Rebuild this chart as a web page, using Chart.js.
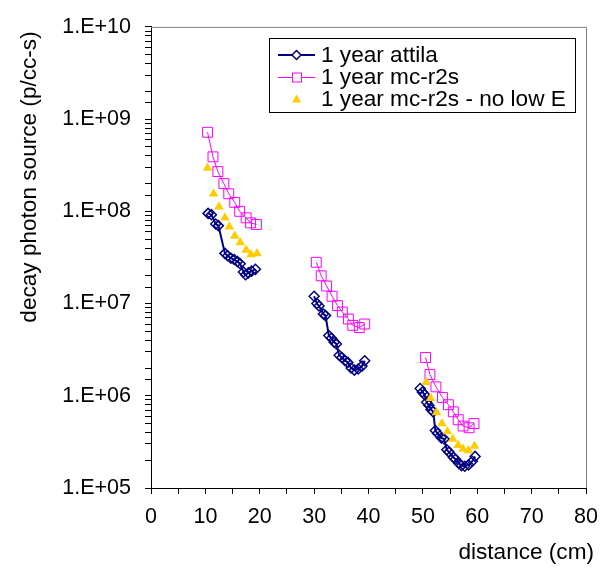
<!DOCTYPE html>
<html lang="en">
<head>
  <meta charset="UTF-8" />
  <title>Decay photon source vs distance</title>
  <script src="https://cdn.jsdelivr.net/npm/chart.js"></script>
  <style>
    body { margin: 0; background: #fff; }
    canvas { display: block; }
  </style>
</head>
<body>
  <canvas id="chart" width="609" height="570"></canvas>

  <script>
    // distance (cm) and decay photon source (p/cc-s); null splits the line between groups
    const attilaX = [10.5, 11.1, 11.9, 12.4, 13.6, 14.1, 14.7, 15.3, 15.9, 16.4, 17.0, 17.4, 17.9, 18.5, 19.2,
      null,
      30.0, 30.5, 30.9, 31.7, 32.1, 32.7, 33.2, 33.7, 34.1, 34.6, 35.1, 35.7, 36.2, 36.8, 37.4, 38.1, 38.8, 39.3,
      null,
      49.5, 49.9, 50.3, 50.7, 51.1, 51.5, 51.9, 52.3, 52.7, 53.4, 53.9, 54.4, 54.8, 55.6, 56.0, 56.6, 57.1, 57.7, 58.4, 59.1, 59.6];
    const attilaY = [9.5e7, 9.2e7, 7.3e7, 7.0e7, 3.5e7, 3.3e7, 3.1e7, 3.0e7, 2.85e7, 2.7e7, 2.2e7, 2.05e7, 2.15e7, 2.25e7, 2.35e7,
      null,
      1.2e7, 1.0e7, 9.4e6, 7.7e6, 7.4e6, 4.5e6, 4.2e6, 3.8e6, 3.65e6, 2.75e6, 2.6e6, 2.4e6, 2.3e6, 2.0e6, 1.9e6, 1.95e6, 2.1e6, 2.4e6,
      null,
      1.2e6, 1.1e6, 1.03e6, 8.5e5, 7.9e5, 7.1e5, 6.7e5, 4.2e5, 3.9e5, 3.5e5, 3.4e5, 2.6e5, 2.45e5, 2.15e5, 2.05e5, 1.85e5, 1.75e5, 1.72e5, 1.78e5, 1.95e5, 2.2e5];

    const r2sX = [10.4, 11.4, 12.3, 13.4, 14.3, 15.4, 16.3, 17.5, 18.3, 19.4,
      null,
      30.4, 31.3, 32.3, 33.3, 34.3, 35.2, 36.3, 37.1, 38.3, 39.3,
      null,
      50.5, 51.3, 52.4, 53.6, 54.7, 55.6, 56.5, 57.4, 58.5, 59.4];
    const r2sY = [7.2e8, 3.9e8, 2.7e8, 2.0e8, 1.55e8, 1.25e8, 1.0e8, 8.5e7, 7.5e7, 7.2e7,
      null,
      2.8e7, 2.0e7, 1.55e7, 1.2e7, 9.5e6, 8.1e6, 6.8e6, 5.8e6, 5.5e6, 6.0e6,
      null,
      2.6e6, 1.7e6, 1.25e6, 9.6e5, 8.0e5, 6.7e5, 5.5e5, 4.7e5, 4.5e5, 5.0e5];

    const noLowEX = [10.4, 11.5, 12.5, 13.6, 14.4, 15.4, 16.4, 17.5, 18.4, 19.5,
      50.6, 51.4, 52.5, 53.5, 54.5, 55.5, 56.5, 57.4, 58.4, 59.5];
    const noLowEY = [2.95e8, 1.55e8, 1.12e8, 8.5e7, 6.8e7, 5.4e7, 4.6e7, 3.8e7, 3.4e7, 3.5e7,
      1.4e6, 9.4e5, 6.6e5, 5.0e5, 4.1e5, 3.4e5, 2.9e5, 2.65e5, 2.55e5, 2.85e5];

    const seriesNames = ['1 year attila', '1 year mc-r2s', '1 year mc-r2s - no low E'];
    const xTitle = 'distance (cm)';
    const yTitle = 'decay photon source (p/cc-s)';

    const NAVY = '#000080';
    const PINK = '#FF00FF';
    const GOLD = '#FFCC00';
    const FONT = "'Liberation Sans', Arial, sans-serif";

    function points(xs, ys) {
      return xs.map((x, i) => (x === null ? { x: null, y: null } : { x: x, y: ys[i] }));
    }

    function diamond(ctx, x, y, r) {
      ctx.beginPath();
      ctx.moveTo(x, y - r); ctx.lineTo(x + r, y); ctx.lineTo(x, y + r); ctx.lineTo(x - r, y);
      ctx.closePath();
    }

    // frame, axis titles and legend box drawn on top of the chart
    const decor = {
      id: 'decor',
      afterDraw(chart) {
        const ctx = chart.ctx;
        const a = chart.chartArea;
        ctx.save();

        ctx.strokeStyle = '#808080';
        ctx.lineWidth = 1;
        ctx.beginPath();
        ctx.moveTo(a.left, a.top + 0.5);
        ctx.lineTo(a.right + 0.5, a.top + 0.5);
        ctx.lineTo(a.right + 0.5, a.bottom);
        ctx.stroke();

        ctx.fillStyle = '#000';
        ctx.font = '22.6px ' + FONT;
        ctx.textBaseline = 'middle';
        ctx.textAlign = 'right';
        ctx.fillText(xTitle, 594, 553);
        ctx.save();
        ctx.translate(30, 177);
        ctx.rotate(-Math.PI / 2);
        ctx.textAlign = 'center';
        ctx.fillText(yTitle, 0, 0);
        ctx.restore();

        // legend
        ctx.fillStyle = '#fff';
        ctx.fillRect(269, 38, 306, 74);
        ctx.strokeStyle = '#000';
        ctx.lineWidth = 1;
        ctx.strokeRect(269.5, 38.5, 306, 74);

        const rows = [55, 77, 99];
        const lx0 = 278, lx1 = 315, mx = 296.5;

        ctx.strokeStyle = NAVY;
        ctx.lineWidth = 2;
        ctx.beginPath(); ctx.moveTo(lx0, rows[0]); ctx.lineTo(lx1, rows[0]); ctx.stroke();
        ctx.fillStyle = '#fff';
        ctx.lineWidth = 1.5;
        diamond(ctx, mx, rows[0], 4.5);
        ctx.fill(); ctx.stroke();

        ctx.strokeStyle = PINK;
        ctx.lineWidth = 1;
        ctx.beginPath(); ctx.moveTo(lx0, rows[1] + 0.5); ctx.lineTo(lx1, rows[1] + 0.5); ctx.stroke();
        ctx.fillStyle = '#fff';
        ctx.fillRect(mx - 4, rows[1] - 4, 9, 9);
        ctx.strokeRect(mx - 4, rows[1] - 4, 9, 9);

        ctx.fillStyle = GOLD;
        ctx.beginPath();
        ctx.moveTo(mx, rows[2] - 4.5);
        ctx.lineTo(mx + 4.5, rows[2] + 3.5);
        ctx.lineTo(mx - 4.5, rows[2] + 3.5);
        ctx.closePath();
        ctx.fill();

        ctx.fillStyle = '#000';
        ctx.font = '22.6px ' + FONT;
        ctx.textAlign = 'left';
        ctx.textBaseline = 'middle';
        seriesNames.forEach((name, i) => ctx.fillText(name, 321, rows[i] + 1));

        ctx.restore();
      }
    };

    new Chart(document.getElementById('chart'), {
      type: 'line',
      data: {
        datasets: [
          {
            label: seriesNames[0],
            data: points(attilaX, attilaY),
            borderColor: NAVY,
            borderWidth: 2,
            pointStyle: 'rectRot',
            pointRadius: 5,
            pointBorderWidth: 1.5,
            pointBorderColor: NAVY,
            pointBackgroundColor: 'rgba(0,0,0,0)',
            spanGaps: false,
            order: 3
          },
          {
            label: seriesNames[1],
            data: points(r2sX, r2sY),
            borderColor: PINK,
            borderWidth: 1,
            pointStyle: 'rect',
            pointRadius: 7,
            pointBorderWidth: 1,
            pointBorderColor: PINK,
            pointBackgroundColor: 'rgba(0,0,0,0)',
            spanGaps: false,
            order: 2
          },
          {
            label: seriesNames[2],
            data: points(noLowEX, noLowEY),
            showLine: false,
            pointStyle: 'triangle',
            pointRadius: 5.5,
            pointBorderWidth: 0,
            pointBackgroundColor: GOLD,
            pointBorderColor: GOLD,
            order: 1
          }
        ]
      },
      options: {
        responsive: false,
        animation: false,
        layout: { padding: { top: 20, right: 23, left: 0, bottom: 0 } },
        plugins: { legend: { display: false }, tooltip: { enabled: false } },
        scales: {
          x: {
            type: 'linear',
            min: 0,
            max: 80,
            afterFit: s => { s.height = 82; },
            border: { color: '#000', width: 1 },
            grid: { drawOnChartArea: false, drawTicks: true, tickLength: 6, tickColor: '#000' },
            ticks: {
              stepSize: 5,
              autoSkip: false,
              maxRotation: 0,
              padding: 10,
              color: '#000',
              font: { family: FONT, size: 21.5 },
              callback: v => (v % 10 === 0 ? String(v) : '')
            }
          },
          y: {
            type: 'logarithmic',
            min: 1e5,
            max: 1e10,
            afterFit: s => { s.width = 151; },
            border: { color: '#000', width: 1 },
            grid: { drawOnChartArea: false, drawTicks: true, tickLength: 6, tickColor: '#000' },
            ticks: {
              autoSkip: false,
              padding: 14,
              color: '#000',
              font: { family: FONT, size: 21.5 },
              callback: v => {
                const e = Math.round(Math.log10(v));
                if (Math.abs(v - Math.pow(10, e)) / v > 1e-6) return '';
                return '1.E+' + (e < 10 ? '0' + e : e);
              }
            }
          }
        }
      },
      plugins: [decor]
    });
  </script>
</body>
</html>
